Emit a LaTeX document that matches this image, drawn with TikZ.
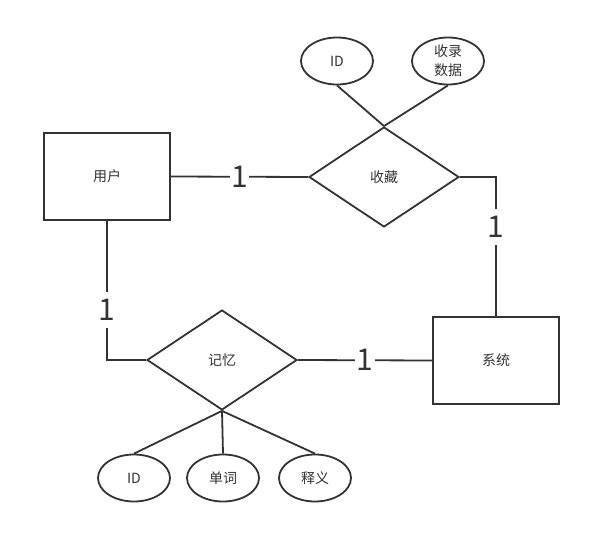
\documentclass[tikz,border=0pt]{standalone}
\usepackage{fontspec}
\setmainfont{Noto Sans CJK SC}
\usetikzlibrary{shapes.geometric, positioning}
\definecolor{ErInk}{HTML}{333333}

\begin{document}
\begin{tikzpicture}[
    x=1pt, y=-1pt,
    font=\fontsize{14}{17}\selectfont,
    text=ErInk,
    entity/.style={
      draw=ErInk,
      line width=1.8pt,
      minimum width=126pt,
      minimum height=87pt,
      inner sep=0pt,
    },
    relation/.style={
      diamond,
      draw=ErInk,
      line width=1.8pt,
      minimum width=150pt,
      minimum height=100pt,
      inner sep=0pt,
    },
    attr/.style={
      ellipse,
      draw=ErInk,
      line width=1.8pt,
      minimum width=72pt,
      minimum height=47pt,
      inner sep=0pt,
      align=center,
      font=\fontsize{14}{19}\selectfont,
    },
    link/.style={draw=ErInk, line width=1.8pt},
    card/.style={
      fill=white,
      inner xsep=1.5pt,
      inner ysep=7pt,
      text depth=0pt,
      font=\fontsize{30}{30}\selectfont,
    },
  ]
    \useasboundingbox (0,0) rectangle (592,549);

    % entities and relations
    \node[entity] (user) at (107,176.5) {用户};
    \node[entity] (sys) at (496,360.5) {系统};
    \node[relation] (fav) at (384,177) {收藏};
    \node[relation] (mem) at (222,360) {记忆};

    % attributes
    \node[attr] (favid) at (337,61) {ID};
    \node[attr] (favdata) at (448,61) {收录\\数据};
    \node[attr] (memid) at (134,478) {ID};
    \node[attr] (word) at (223,478) {单词};
    \node[attr] (mean) at (315,478) {释义};

    \draw[link] (favid.south) -- (fav.north);
    \draw[link] (favdata.south) -- (fav.north);
    \draw[link] (mem.south) -- (memid.north);
    \draw[link] (mem.south) -- (word.north);
    \draw[link] (mem.south) -- (mean.north);

    % cardinalities
    \draw[link] (user.east) -- node[card] {1} (fav.west);
    \draw[link] (fav.east) -| node[card, pos=0.68] {1} (sys.north);
    \draw[link] (user.south) |- node[card, pos=0.32] {1} (mem.west);
    \draw[link] (mem.east) -- node[card] {1} (sys.west);
\end{tikzpicture}
\end{document}
